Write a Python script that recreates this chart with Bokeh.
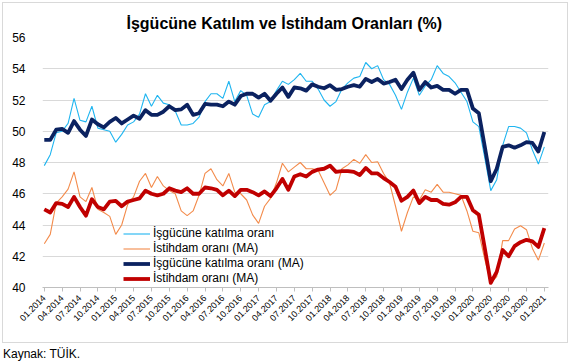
from bokeh.plotting import figure
from bokeh.models import FixedTicker, Legend, LegendItem, Range1d, Div
from bokeh.layouts import column
from bokeh.embed import file_html
from bokeh.resources import INLINE
import math

tick_labels = ["01.2014", "04.2014", "07.2014", "10.2014", "01.2015", "04.2015", "07.2015", "10.2015",
               "01.2016", "04.2016", "07.2016", "10.2016", "01.2017", "04.2017", "07.2017", "10.2017",
               "01.2018", "04.2018", "07.2018", "10.2018", "01.2019", "04.2019", "07.2019", "10.2019",
               "01.2020", "04.2020", "07.2020", "10.2020", "01.2021"]

lfpr = [47.8, 48.5, 49.9, 50.0, 50.5, 52.1, 50.7, 50.6, 51.6, 50.2, 50.1, 50.0, 49.3, 49.8, 50.4, 50.6,
        51.1, 52.4, 51.6, 52.3, 51.8, 51.7, 51.3, 50.4, 50.4, 50.5, 50.9, 51.9, 52.4, 52.4, 52.1, 53.2,
        51.9, 52.6, 52.3, 51.1, 50.9, 51.7, 51.9, 52.6, 53.2, 53.0, 53.3, 53.7, 53.2, 53.2, 52.7, 52.0,
        51.6, 51.9, 52.7, 53.1, 53.4, 53.5, 54.4, 54.0, 54.2, 53.3, 53.0, 52.3, 51.4, 52.5, 53.4, 52.3,
        52.9, 53.3, 54.2, 53.7, 53.5, 53.1, 52.5, 51.9, 50.6, 50.3, 48.3, 46.2, 46.9, 49.1, 50.3, 50.3,
        50.2, 49.9, 48.8, 47.9, 49.0]

emp = [42.8, 43.4, 45.4, 45.8, 46.3, 47.4, 45.8, 45.5, 46.4, 45.0, 44.8, 44.55, 43.4, 44.0, 45.3, 45.8,
       46.8, 47.3, 46.4, 47.1, 46.5, 46.2, 46.0, 44.9, 44.6, 44.9, 45.9, 47.3, 47.6, 46.9, 46.5, 47.3,
       46.1, 46.0, 45.6, 44.65, 44.1, 45.2, 45.7, 46.7, 47.95, 47.4, 47.7, 48.0, 47.6, 47.6, 47.5, 46.7,
       45.9, 46.25, 47.6, 47.85, 48.2, 47.95, 48.5, 48.0, 48.05, 47.3, 46.7, 45.2, 43.6, 44.8, 45.8, 45.6,
       46.25, 46.1, 46.6, 46.1, 46.1, 46.0, 45.9, 44.9, 43.6, 43.5, 41.8, 40.3, 40.7, 43.0, 43.0, 43.75,
       43.95, 43.7, 42.5, 41.75, 42.85]

lfpr_ma = [49.45, 49.45, 50.1, 50.15, 49.9, 50.65, 50.1, 49.7, 50.75, 50.45, 50.25, 50.6, 50.85, 50.5,
           50.75, 51.0, 50.8, 51.35, 51.05, 51.05, 51.25, 51.6, 51.35, 51.4, 51.7, 51.05, 51.15, 51.75,
           51.7, 51.7, 51.6, 51.9, 51.7, 52.25, 52.4, 52.4, 52.15, 52.4, 51.95, 52.4, 52.8, 52.2, 52.8,
           52.75, 52.6, 53.0, 52.85, 52.75, 52.95, 52.65, 52.7, 52.85, 52.95, 52.85, 53.35, 53.15, 53.35,
           53.05, 53.15, 53.3, 52.7, 53.3, 53.75, 52.65, 53.15, 52.8, 52.9, 52.65, 52.65, 52.4, 52.65,
           52.65, 51.45, 51.15, 49.0, 46.8, 47.6, 49.0, 49.1, 48.95, 49.1, 49.3, 49.25, 48.7, 49.95]

emp_ma = [45.0, 44.8, 45.4, 45.35, 45.15, 45.8, 45.15, 44.6, 45.65, 45.15, 45.0, 45.5, 45.55, 45.2, 45.5,
          45.6, 45.7, 46.2, 46.0, 45.9, 46.0, 46.35, 46.2, 46.1, 46.35, 46.0, 46.0, 46.4, 46.35, 46.25,
          45.9, 46.2, 45.85, 46.25, 46.25, 46.1, 45.9, 46.15, 45.85, 46.35, 46.95, 46.25, 47.1, 47.25,
          47.1, 47.4, 47.55, 47.6, 47.8, 47.4, 47.45, 47.45, 47.4, 47.2, 47.65, 47.3, 47.3, 47.0, 46.75,
          46.45, 45.55, 45.8, 46.2, 45.4, 45.8, 45.6, 45.6, 45.35, 45.3, 45.45, 45.8, 45.8, 44.95, 44.65,
          42.5, 40.3, 41.0, 42.4, 42.0, 42.65, 42.9, 43.05, 42.95, 42.6, 43.8]

series_names = ["İşgücüne katılma oranı", "İstihdam oranı (MA)",
                "İşgücüne katılma oranı (MA)", "İstihdam oranı (MA)"]

x = list(range(len(lfpr)))
tick_pos = list(range(0, len(lfpr), 3))

FONT = "Liberation Sans"

p = figure(width=564, height=339, output_backend="svg", toolbar_location=None,
           x_range=Range1d(-0.3, 84.7), y_range=Range1d(40, 56),
           min_border_left=39, min_border_right=19, min_border_top=34, min_border_bottom=55)
p.margin = (3, 0, 0, 3)
p.styles = {"outline": "1px solid #D9D9D9"}
p.outline_line_color = None
p.background_fill_color = "white"
p.border_fill_color = "white"

p.title.text = "İşgücüne Katılım ve İstihdam Oranları (%)"
p.title.align = "left"
p.title.offset = 84
p.title.text_font = FONT
p.title.text_font_size = "16px"
p.title.text_font_style = "bold"
p.title.text_color = "#000000"
p.title.standoff = 11

r1 = p.line(x, lfpr, line_color="#1FB5F0", line_width=1.1)
r2 = p.line(x, emp, line_color="#F38B4B", line_width=1.1)
r3 = p.line(x, lfpr_ma, line_color="#0B2260", line_width=3.8, line_join="round")
r4 = p.line(x, emp_ma, line_color="#C00000", line_width=3.8, line_join="round")

p.xgrid.visible = False
p.ygrid.grid_line_color = "#D9D9D9"
p.ygrid.grid_line_width = 1

p.yaxis.ticker = FixedTicker(ticks=[40, 42, 44, 46, 48, 50, 52, 54, 56])
p.yaxis.axis_line_color = None
p.yaxis.major_tick_line_color = None
p.yaxis.minor_tick_line_color = None
p.yaxis.major_label_standoff = 11
p.yaxis.major_label_text_font = FONT
p.yaxis.major_label_text_font_size = "12px"
p.yaxis.major_label_text_color = "#000000"

p.xaxis.ticker = FixedTicker(ticks=tick_pos)
p.xaxis.major_label_overrides = {t: lab for t, lab in zip(tick_pos, tick_labels)}
p.xaxis.major_label_orientation = math.pi / 4
p.xaxis.axis_line_color = "#BFBFBF"
p.xaxis.major_tick_line_color = "#BFBFBF"
p.xaxis.major_tick_out = 4
p.xaxis.major_tick_in = 0
p.xaxis.minor_tick_line_color = None
p.xaxis.major_label_standoff = 5
p.xaxis.major_label_text_font = FONT
p.xaxis.major_label_text_font_size = "9px"
p.xaxis.major_label_text_color = "#000000"

legend = Legend(items=[LegendItem(label=series_names[0], renderers=[r1]),
                       LegendItem(label=series_names[1], renderers=[r2]),
                       LegendItem(label=series_names[2], renderers=[r3]),
                       LegendItem(label=series_names[3], renderers=[r4])],
                location=(81, 2))
legend.background_fill_alpha = 0
legend.border_line_alpha = 0
legend.padding = 0
legend.margin = 0
legend.spacing = 1
legend.glyph_width = 27
legend.glyph_height = 13
legend.label_height = 13
legend.label_standoff = 3
legend.label_text_font = FONT
legend.label_text_font_size = "12px"
legend.label_text_color = "#000000"
p.add_layout(legend)

src = Div(text="Kaynak: TÜİK.", width=300, height=22, margin=(0, 0, 0, 0),
          styles={"font-family": "Liberation Sans, Arial, sans-serif", "font-size": "12px",
                  "color": "#000000", "padding-top": "5px", "padding-left": "3px",
                  "line-height": "14px"})

layout = column(p, src, spacing=0)
open("out.html", "w").write(file_html(layout, INLINE))
